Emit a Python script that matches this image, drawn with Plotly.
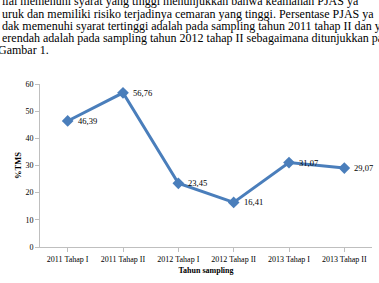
import plotly.graph_objects as go

categories = ["2011 Tahap I", "2011 Tahap II", "2012 Tahap I", "2012 Tahap II", "2013 Tahap I", "2013 Tahap II"]
values = [46.39, 56.76, 23.45, 16.41, 31.07, 29.07]
value_labels = ["46,39", "56,76", "23,45", "16,41", "31,07", "29,07"]
y_ticks = [0, 10, 20, 30, 40, 50, 60]
x_title = "Tahun sampling"
y_title = "%TMS"
paragraph_lines = [
    "ilai memenuhi syarat yang tinggi menunjukkan bahwa keamanan PJAS ya",
    "uruk dan memiliki risiko terjadinya cemaran yang tinggi. Persentase PJAS ya",
    "dak memenuhi syarat tertinggi adalah pada sampling tahun 2011 tahap II dan ya",
    "erendah adalah pada sampling tahun 2012 tahap II sebagaimana ditunjukkan pa",
    "Gambar 1.",
]

W, H = 379, 283
L, R, T, B = 40, 7, 84, 36
PW, PH = W - L - R, H - T - B

def px_x(px):
    return (px - L) / PW

def px_y(py):
    return (H - B - py) / PH

SERIF = "Liberation Serif, Times New Roman, serif"

fig = go.Figure()
fig.add_trace(go.Scatter(
    x=categories, y=values, mode="lines+markers",
    line=dict(color="#4A7EBB", width=3),
    marker=dict(symbol="diamond", size=9, color="#4A7EBB"),
    cliponaxis=False, showlegend=False,
))

for cat, val, lab in zip(categories, values, value_labels):
    fig.add_annotation(
        x=cat, y=val, text=lab, xanchor="left", yanchor="middle",
        xshift=8, showarrow=False,
        font=dict(family=SERIF, size=8.5, color="#000000"),
    )

fig.update_layout(
    width=W, height=H,
    margin=dict(l=L, r=R, t=T, b=B, pad=0),
    paper_bgcolor="white", plot_bgcolor="white",
    font=dict(family=SERIF, size=8, color="#000000"),
    xaxis=dict(
        type="category", range=[-0.5, len(categories) - 0.5],
        showline=True, linecolor="#BFBFBF", linewidth=1,
        ticks="outside", ticklen=4, tickcolor="#BFBFBF",
        showgrid=False, zeroline=False,
        tickfont=dict(family=SERIF, size=8),
        title=dict(text="<b>" + x_title + "</b>", font=dict(family=SERIF, size=8), standoff=4),
    ),
    yaxis=dict(
        range=[0, 60], tickvals=y_ticks,
        showline=True, linecolor="#BFBFBF", linewidth=1,
        ticks="outside", ticklen=4, tickcolor="#BFBFBF",
        showgrid=False, zeroline=False,
        tickfont=dict(family=SERIF, size=8),
        title=dict(text="<b>" + y_title + "</b>", font=dict(family=SERIF, size=8.5), standoff=2),
    ),
)

line_ys = [1, 14, 26, 38, 50]
line_xs = [0, 0, 0, 0, -4]
for txt, py, pxx in zip(paragraph_lines, line_ys, line_xs):
    fig.add_annotation(
        text=txt, xref="paper", yref="paper",
        x=px_x(pxx), y=px_y(py), xanchor="left", yanchor="middle",
        showarrow=False, font=dict(family=SERIF, size=12, color="#000000"),
    )

fig.write_html("out.html")
